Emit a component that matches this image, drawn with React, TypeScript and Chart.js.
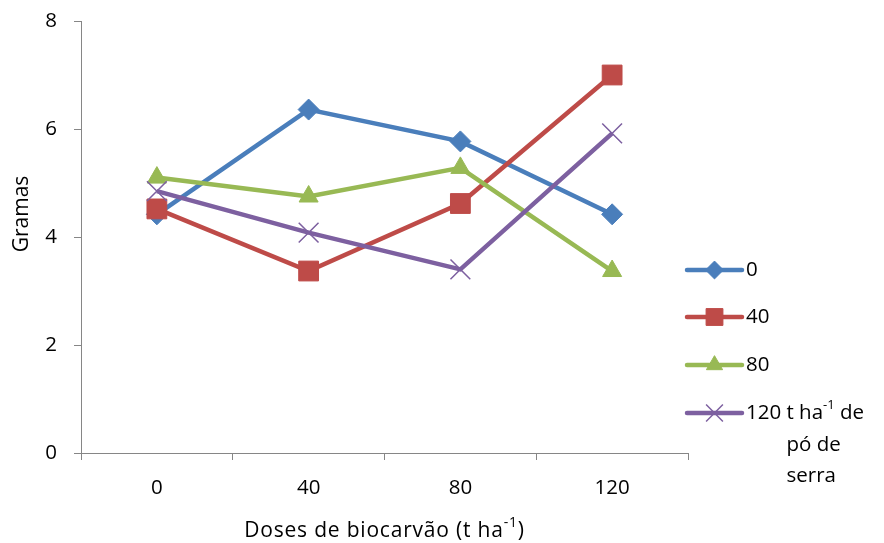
import React, { useEffect, useRef } from 'react';
import { Chart, registerables } from 'chart.js';
import { drawPoint } from 'chart.js/helpers';

Chart.register(...registerables);

// Doses de biocarvão (t ha-1) on the category axis
const doses = ['0', '40', '80', '120'];

// Mass in grams per dose of sawdust (pó de serra)
const serie0 = [4.42, 6.36, 5.77, 4.42];
const serie40 = [4.52, 3.37, 4.62, 7.0];
const serie80 = [5.1, 4.75, 5.28, 3.37];
const serie120 = [4.85, 4.08, 3.4, 5.92];

const seriesNames = ['0', '40', '80', '120'];
const yMin = 0;
const yMax = 8;
const yStep = 2;

const FONT_FAMILY = '"Open Sans", Lato, sans-serif';
const TICK_SIZE = 20.5;
const TITLE_SIZE = 21;
const LEGEND_SIZE = 20.5;
const AXIS_GREY = '#868686';

const styles = [
  { color: '#4A7EBB', pointStyle: 'rectRot', radius: 10.5 },
  { color: '#BE4B48', pointStyle: 'rect', radius: 14 },
  { color: '#98B954', pointStyle: 'triangle', radius: 11 },
  { color: '#7D60A0', pointStyle: 'crossRot', radius: 14 },
];

type Seg = { text: string; sup?: boolean };

// draws a run of text segments, raising and shrinking superscripts
function drawSegments(ctx: CanvasRenderingContext2D, segs: Seg[], x: number, y: number, size: number) {
  let cx = x;
  for (const s of segs) {
    const fs = s.sup ? Math.round(size * 0.65) : size;
    ctx.font = `${fs}px ${FONT_FAMILY}`;
    ctx.fillText(s.text, cx, s.sup ? y - size * 0.36 : y);
    cx += ctx.measureText(s.text).width;
  }
  return cx;
}

function segWidth(ctx: CanvasRenderingContext2D, segs: Seg[], size: number) {
  let w = 0;
  for (const s of segs) {
    const fs = s.sup ? Math.round(size * 0.65) : size;
    ctx.font = `${fs}px ${FONT_FAMILY}`;
    w += ctx.measureText(s.text).width;
  }
  return w;
}

const annotations = {
  id: 'annotations',
  afterDraw(chart: any) {
    const ctx: CanvasRenderingContext2D = chart.ctx;
    const area = chart.chartArea;
    ctx.save();
    ctx.fillStyle = '#000';
    ctx.textBaseline = 'middle';
    ctx.textAlign = 'left';

    // x axis title with superscript, slightly tracked out
    (ctx as any).letterSpacing = '0.8px';
    const xTitle: Seg[] = [{ text: 'Doses de biocarvão (t ha' }, { text: '-1', sup: true }, { text: ')' }];
    const xw = segWidth(ctx, xTitle, TITLE_SIZE);
    drawSegments(ctx, xTitle, (area.left + area.right) / 2 - xw / 2, 531, TITLE_SIZE);
    (ctx as any).letterSpacing = '0px';

    // y axis title
    ctx.save();
    ctx.translate(22, 214);
    ctx.rotate(-Math.PI / 2);
    ctx.font = `${TITLE_SIZE}px ${FONT_FAMILY}`;
    ctx.textAlign = 'center';
    ctx.fillText('Gramas', 0, 0);
    ctx.restore();

    // legend
    const lx0 = 687;
    const lx1 = 742;
    const tx = 746;
    const rowY = [270, 317, 365, 413];
    chart.data.datasets.forEach((ds: any, i: number) => {
      const y = rowY[i];
      ctx.strokeStyle = ds.borderColor;
      ctx.lineWidth = ds.borderWidth;
      ctx.lineCap = 'round';
      ctx.beginPath();
      ctx.moveTo(lx0, y);
      ctx.lineTo(lx1, y);
      ctx.stroke();
      ctx.fillStyle = ds.pointBackgroundColor;
      ctx.strokeStyle = ds.pointBorderColor;
      ctx.lineWidth = ds.pointBorderWidth;
      ctx.lineCap = 'butt';
      drawPoint(ctx, {
        pointStyle: ds.pointStyle,
        radius: ds.pointRadius * 0.85,
        borderWidth: ds.pointBorderWidth,
        rotation: 0,
      } as any, (lx0 + lx1) / 2, y);
      ctx.fillStyle = '#000';
      if (i < 3) {
        drawSegments(ctx, [{ text: seriesNames[i] }], tx, y, LEGEND_SIZE);
      } else {
        ctx.font = `${LEGEND_SIZE}px ${FONT_FAMILY}`;
        const indent = tx + ctx.measureText(seriesNames[i] + ' ').width;
        drawSegments(ctx, [{ text: seriesNames[i] + ' t ha' }, { text: '-1', sup: true }, { text: ' de' }], tx, y, LEGEND_SIZE);
        drawSegments(ctx, [{ text: 'pó de' }], indent, y + 32, LEGEND_SIZE);
        drawSegments(ctx, [{ text: 'serra' }], indent, y + 63, LEGEND_SIZE);
      }
    });
    ctx.restore();
  },
};

export default function App() {
  const ref = useRef<HTMLCanvasElement | null>(null);

  useEffect(() => {
    if (!ref.current) return;
    const all = [serie0, serie40, serie80, serie120];
    const chart = new Chart(ref.current, {
      type: 'line',
      data: {
        labels: doses,
        datasets: all.map((vals, i) => ({
          label: seriesNames[i],
          data: vals,
          borderColor: styles[i].color,
          backgroundColor: styles[i].color,
          pointBackgroundColor: styles[i].color,
          pointBorderColor: styles[i].color,
          pointStyle: styles[i].pointStyle as any,
          pointRadius: styles[i].radius,
          pointBorderWidth: styles[i].pointStyle === 'crossRot' ? 1.5 : 1,
          borderWidth: 4.5,
          tension: 0,
          fill: false,
          order: 4 - i,
        })),
      },
      plugins: [annotations],
      options: {
        animation: false,
        responsive: false,
        devicePixelRatio: 1,
        layout: { padding: { top: 21, right: 196, left: 0, bottom: 0 } },
        plugins: {
          legend: { display: false },
          tooltip: { enabled: false },
          title: { display: false },
        },
        scales: {
          x: {
            type: 'category',
            offset: true,
            grid: {
              offset: true,
              drawOnChartArea: false,
              tickLength: 7,
              color: AXIS_GREY,
              lineWidth: 1,
            },
            border: { display: true, color: AXIS_GREY, width: 1 },
            ticks: {
              color: '#000',
              font: { family: FONT_FAMILY, size: TICK_SIZE },
              padding: 16,
              maxRotation: 0,
            },
            afterFit: (scale: any) => {
              scale.height = 90;
              scale.paddingLeft = 0;
              scale.paddingRight = 0;
            },
          },
          y: {
            min: yMin,
            max: yMax,
            grid: {
              drawOnChartArea: false,
              tickLength: 7,
              color: AXIS_GREY,
              lineWidth: 1,
            },
            border: { display: true, color: AXIS_GREY, width: 1 },
            ticks: {
              stepSize: yStep,
              color: '#000',
              font: { family: FONT_FAMILY, size: TICK_SIZE },
              padding: 17,
            },
            afterFit: (scale: any) => {
              scale.width = 81;
              scale.paddingTop = 0;
              scale.paddingBottom = 0;
            },
          },
        },
      },
    });
    return () => chart.destroy();
  }, []);

  return (
    <div style={{ position: 'absolute', left: 0, top: 0, width: 884, height: 543, background: '#fff' }}>
      <canvas ref={ref} width={884} height={543} style={{ display: 'block' }} />
    </div>
  );
}
